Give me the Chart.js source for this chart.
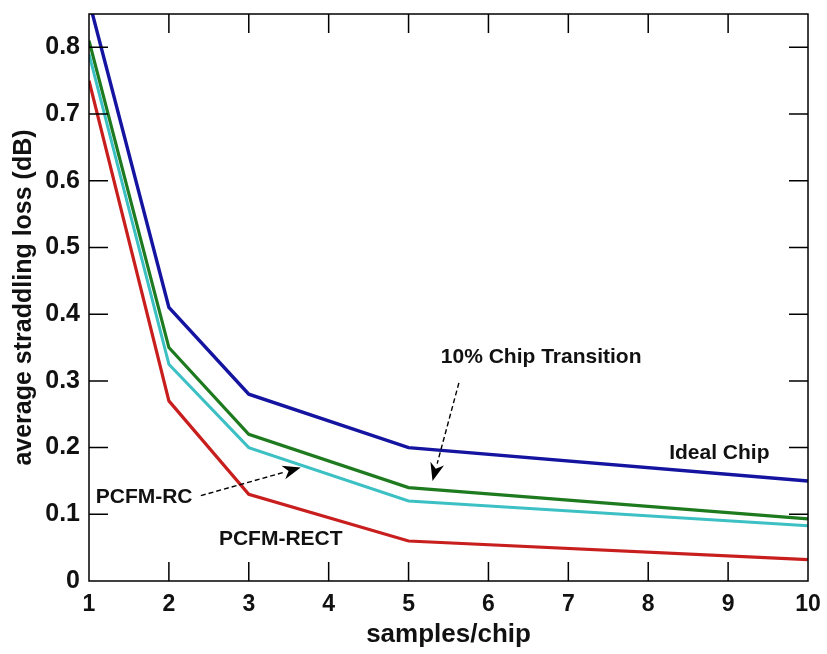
<!DOCTYPE html>
<html>
<head>
<meta charset="utf-8">
<script src="https://cdn.jsdelivr.net/npm/chart.js@4.4.1/dist/chart.umd.min.js"></script>
<style>
  html, body { margin: 0; padding: 0; background: #fff; }
  #wrap { width: 827px; height: 654px; }
</style>
</head>
<body>
<div id="wrap"><canvas id="c" width="827" height="654"></canvas></div>
<script>
// samples per chip where the curves were evaluated
const samples = [1, 2, 3, 5, 10];

// average straddling loss (dB) for each waveform
const idealChip = [0.87, 0.41, 0.28, 0.20, 0.15];
const chip10 = [0.81, 0.35, 0.22, 0.14, 0.093];
const pcfmRC = [0.79, 0.325, 0.20, 0.12, 0.083];
const pcfmRect = [0.75, 0.27, 0.13, 0.06, 0.032];

const xTicks = [1, 2, 3, 4, 5, 6, 7, 8, 9, 10];
const yTicks = [0, 0.1, 0.2, 0.3, 0.4, 0.5, 0.6, 0.7, 0.8];

// text labels and arrows, in data units
const notes = [
    { text: '10% Chip Transition', x: 6.66, y: 0.335 },
    { text: 'Ideal Chip', x: 8.89, y: 0.192 },
    { text: 'PCFM-RC', x: 1.69, y: 0.126 },
    { text: 'PCFM-RECT', x: 3.40, y: 0.062 },
];
const arrows = [
    { from: [5.63, 0.297], to: [5.30, 0.150] },
    { from: [2.40, 0.128], to: [3.65, 0.170] },
];

const pts = ys => samples.map((x, i) => ({ x: x, y: ys[i] }));

const TICK_LEN = 19;
const labelFont = "bold 21px 'Liberation Sans', Arial, sans-serif";
const sans = "'Liberation Sans', Arial, sans-serif";

const framePlugin = {
    id: 'frame',
    afterDatasetsDraw(chart) {
        const { ctx, chartArea: a, scales } = chart;
        ctx.save();
        ctx.strokeStyle = '#000';
        ctx.lineWidth = 1.5;
        ctx.strokeRect(a.left, a.top, a.right - a.left, a.bottom - a.top);
        ctx.beginPath();
        xTicks.slice(1, -1).forEach(v => {
            const px = scales.x.getPixelForValue(v);
            ctx.moveTo(px, a.bottom); ctx.lineTo(px, a.bottom - TICK_LEN);
            ctx.moveTo(px, a.top); ctx.lineTo(px, a.top + TICK_LEN);
        });
        yTicks.slice(1).forEach(v => {
            const py = scales.y.getPixelForValue(v);
            ctx.moveTo(a.left, py); ctx.lineTo(a.left + TICK_LEN, py);
            ctx.moveTo(a.right, py); ctx.lineTo(a.right - TICK_LEN, py);
        });
        ctx.stroke();

        // arrows
        ctx.lineWidth = 1.4;
        arrows.forEach(ar => {
            const x0 = scales.x.getPixelForValue(ar.from[0]);
            const y0 = scales.y.getPixelForValue(ar.from[1]);
            const x1 = scales.x.getPixelForValue(ar.to[0]);
            const y1 = scales.y.getPixelForValue(ar.to[1]);
            const ang = Math.atan2(y1 - y0, x1 - x0);
            const head = 18, half = 7;
            const bx = x1 - head * Math.cos(ang), by = y1 - head * Math.sin(ang);
            ctx.setLineDash([5, 3]);
            ctx.beginPath();
            ctx.moveTo(x0, y0);
            ctx.lineTo(bx, by);
            ctx.stroke();
            ctx.setLineDash([]);
            ctx.beginPath();
            ctx.moveTo(x1, y1);
            ctx.lineTo(bx + half * Math.sin(ang), by - half * Math.cos(ang));
            ctx.lineTo(x1 - head * 0.7 * Math.cos(ang), y1 - head * 0.7 * Math.sin(ang));
            ctx.lineTo(bx - half * Math.sin(ang), by + half * Math.cos(ang));
            ctx.closePath();
            ctx.fillStyle = '#000';
            ctx.fill();
        });

        // text notes
        ctx.font = labelFont;
        ctx.fillStyle = '#111';
        ctx.textAlign = 'center';
        ctx.textBaseline = 'middle';
        notes.forEach(n => {
            ctx.fillText(n.text, scales.x.getPixelForValue(n.x), scales.y.getPixelForValue(n.y));
        });
        ctx.restore();
    }
};

new Chart(document.getElementById('c'), {
    type: 'line',
    data: {
        datasets: [
            { label: 'PCFM-RECT', data: pts(pcfmRect), borderColor: '#c81e1e', borderWidth: 3.2 },
            { label: 'PCFM-RC', data: pts(pcfmRC), borderColor: '#3cc0c4', borderWidth: 3 },
            { label: '10% Chip Transition', data: pts(chip10), borderColor: '#1e7a1e', borderWidth: 3.2 },
            { label: 'Ideal Chip', data: pts(idealChip), borderColor: '#1414a0', borderWidth: 3.4 },
        ],
    },
    options: {
        responsive: false,
        animation: false,
        layout: { padding: { top: 14, right: 19, left: 0, bottom: 0 } },
        elements: { point: { radius: 0 }, line: { tension: 0 } },
        plugins: { legend: { display: false }, tooltip: { enabled: false } },
        scales: {
            x: {
                type: 'linear',
                min: 1,
                max: 10,
                afterFit(s) { s.height = 73; s.paddingLeft = 0; s.paddingRight = 0; },
                afterBuildTicks(s) { s.ticks = xTicks.map(v => ({ value: v })); },
                grid: { display: false, drawTicks: false },
                border: { display: false },
                ticks: { color: '#111', font: { family: sans, size: 23, weight: 'bold' }, padding: 10, maxRotation: 0, callback: v => String(v) },
                title: {
                    display: true,
                    text: 'samples/chip',
                    color: '#111',
                    font: { family: sans, size: 26, weight: 'bold' },
                    padding: { top: 0, bottom: 4 },
                },
            },
            y: {
                type: 'linear',
                min: 0,
                max: 0.85,
                afterFit(s) { s.width = 89; s.paddingTop = 0; s.paddingBottom = 0; },
                afterBuildTicks(s) { s.ticks = yTicks.map(v => ({ value: v })); },
                grid: { display: false, drawTicks: false },
                border: { display: false },
                ticks: { color: '#111', font: { family: sans, size: 25, weight: 'bold' }, padding: 9, callback: v => String(+v.toFixed(1)) },
                title: {
                    display: true,
                    text: 'average straddling loss (dB)',
                    color: '#111',
                    font: { family: sans, size: 25, weight: 'bold' },
                    padding: { top: 9, bottom: 0 },
                },
            },
        },
    },
    plugins: [framePlugin],
});
</script>
</body>
</html>
